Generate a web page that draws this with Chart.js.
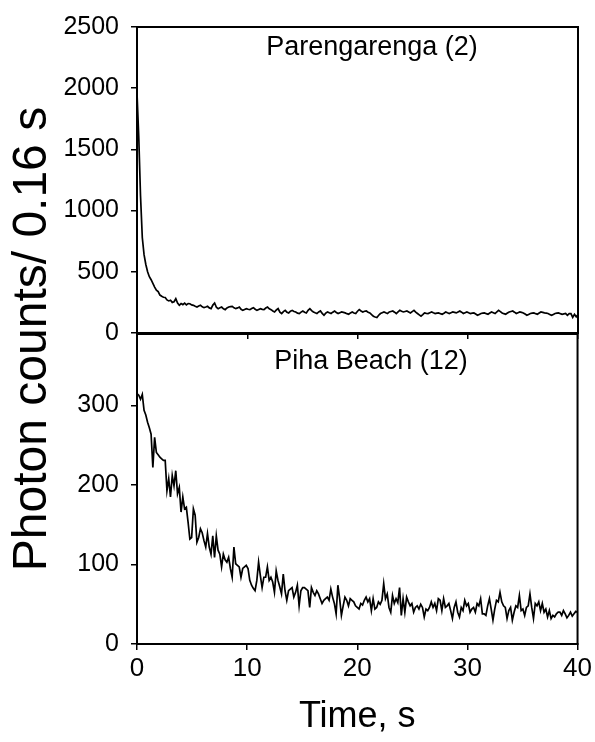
<!DOCTYPE html>
<html>
<head>
<meta charset="utf-8">
<script src="https://cdn.jsdelivr.net/npm/chart.js@4.4.1/dist/chart.umd.min.js"></script>
<style>
html,body{margin:0;padding:0;background:#fff;}
#wrap{position:relative;width:595px;height:742px;overflow:hidden;font-family:"Liberation Sans",Arial,sans-serif;color:#000;}
canvas{position:absolute;left:0;top:0;width:595px;height:742px;}
.panel{position:absolute;font-size:27px;line-height:26px;white-space:nowrap;transform:translateX(-50%);}
#ytitle{position:absolute;left:30px;top:339px;width:700px;height:40px;line-height:40px;font-size:48px;text-align:center;white-space:nowrap;transform:translate(-50%,-50%) rotate(-90deg);}
</style>
</head>
<body>
<div id="wrap">
<canvas id="cTop" width="595" height="742"></canvas>
<canvas id="cBot" width="595" height="742"></canvas>
<div class="panel" style="left:372px;top:33px;">Parengarenga (2)</div>
<div class="panel" style="left:371px;top:347px;">Piha Beach (12)</div>
<div id="ytitle">Photon counts/ 0.16 s</div>
</div>
<script>
// ---- data ----
const STEP = 0.16; // sampling interval, s
const timeTicks = [0, 10, 20, 30, 40];
const pareTicks = [0, 500, 1000, 1500, 2000, 2500];
const pihaTicks = [0, 100, 200, 300];

const pareCounts = [
1960,1600,1120,780,640,560,500,460,435,405,
375,350,338,310,300,292,290,270,262,268,
250,255,280,245,226,240,232,244,230,240,
239,230,226,218,212,220,226,214,207,212,
218,205,199,228,245,210,199,206,212,198,
191,205,212,216,218,206,199,205,212,194,
185,192,199,194,191,200,207,194,185,192,
199,193,191,204,212,198,191,180,172,188,
199,170,159,175,185,170,164,178,185,176,
172,162,159,171,180,170,164,185,199,183,
172,165,159,172,180,160,145,162,172,165,
159,170,180,168,159,166,172,168,164,158,
153,164,172,163,159,178,191,180,172,178,
180,170,164,150,137,131,127,145,159,166,
172,165,159,172,176,180,170,159,172,185,
178,172,176,180,172,164,175,185,170,159,
148,137,150,164,161,159,166,172,165,159,
162,164,158,153,162,172,165,159,166,172,
168,164,172,180,170,159,166,172,165,159,
162,164,155,145,152,159,162,164,158,153,
163,172,166,159,172,185,175,164,158,153,
163,172,176,180,170,159,166,172,168,164,
155,145,152,159,162,164,158,153,163,172,
168,164,162,159,152,145,152,159,162,164,
158,153,156,159,145,159,159,127,153,132,
150
];

const pihaCounts = [
315,313,308,314,294,288,279,272,264,222,
260,241,238,235,233,231,231,193,208,185,
212,199,218,189,197,166,185,170,172,153,
132,134,170,162,128,134,145,140,130,122,
139,122,113,136,109,136,118,113,97,113,
106,103,109,95,84,122,101,99,97,84,
95,97,99,95,80,74,70,67,80,103,
86,71,84,84,97,80,84,78,65,92,
80,72,63,88,67,55,67,69,71,59,
65,74,48,67,71,
71,69,67,46,71,65,61,67,63,57,
51,55,57,59,55,69,59,51,38,74,
57,36,48,59,55,48,57,55,53,48,
46,44,51,49,55,59,53,57,42,57,
44,46,53,50,55,76,57,63,46,40,
61,51,57,52,71,36,57,40,59,53,
48,51,40,46,48,44,50,46,34,44,
42,46,53,46,51,42,57,
55,42,57,46,48,51,42,32,46,53,
40,34,46,42,55,48,51,40,44,46,
40,51,48,57,38,38,36,48,57,44,
30,44,55,53,65,53,48,46,32,42,
46,30,40,48,46,61,42,44,36,46,
48,63,46,32,51,48,53,42,51,40,
44,34,42,32,36,34,38,40,40,
36,42,38,33,36,40,35,38,41,40
];

// ---- helpers ----
const FONT = '"Liberation Sans", Arial, sans-serif';
function toPoints(arr){ return arr.map((v,i)=>({x: Math.round(i*STEP*100)/100, y: v})); }
function fixedTicks(list){ return s => { s.ticks = list.map(v=>({value:v})); }; }
const plainLabel = v => String(v);

const framePlugin = {
  id: 'frame',
  afterDraw(chart){
    const a = chart.chartArea, ctx = chart.ctx;
    ctx.save();
    ctx.strokeStyle = '#000';
    ctx.lineWidth = 2;
    ctx.strokeRect(a.left, a.top, a.right - a.left, a.bottom - a.top);
    ctx.restore();
  }
};

function makeChart(id, values, yMax, yTicks, isBottom){
  const xAxis = {
    type: 'linear', min: 0, max: 40,
    afterBuildTicks: fixedTicks(timeTicks),
    ticks: { display: isBottom, color: '#000', font: {family: FONT, size: 26}, padding: 3, maxRotation: 0, callback: plainLabel },
    grid: { drawOnChartArea: false, drawTicks: true, tickLength: 6, color: '#000', lineWidth: 1.5 },
    border: { display: true, color: '#000', width: 2 },
    afterFit: s => { s.height = isBottom ? 98 : 10; }
  };
  if (isBottom) {
    xAxis.title = { display: true, text: 'Time, s', color: '#000', font: {family: FONT, size: 36}, padding: {top: 0, bottom: 3} };
  }
  return new Chart(document.getElementById(id), {
    type: 'line',
    data: { datasets: [{
      data: toPoints(values),
      borderColor: '#000', borderWidth: 1.7,
      pointRadius: 0, tension: 0, fill: false
    }]},
    options: {
      responsive: false, animation: false, events: [],
      layout: { padding: isBottom ? {top: 334, right: 17, bottom: 0, left: 0}
                                  : {top: 23, right: 17, bottom: 742 - 333 - 10, left: 0} },
      plugins: { legend: {display: false}, tooltip: {enabled: false}, title: {display: false} },
      scales: {
        x: xAxis,
        y: {
          type: 'linear', min: 0, max: yMax,
          afterBuildTicks: fixedTicks(yTicks),
          ticks: { color: '#000', font: {family: FONT, size: 25}, padding: 12, callback: plainLabel },
          grid: { drawOnChartArea: false, drawTicks: true, tickLength: 6, color: '#000', lineWidth: 1.5 },
          border: { display: true, color: '#000', width: 2 },
          afterFit: s => { s.width = 137; }
        }
      }
    },
    plugins: [framePlugin]
  });
}

makeChart('cTop', pareCounts, 2500, pareTicks, false);
makeChart('cBot', pihaCounts, 390, pihaTicks, true);
</script>
</body>
</html>
